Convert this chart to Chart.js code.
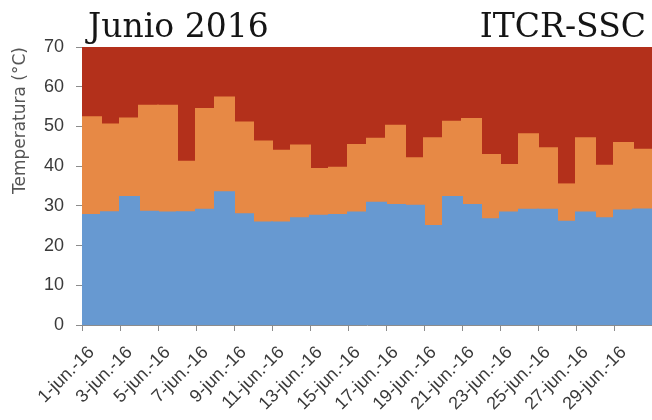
<!DOCTYPE html>
<html>
<head>
<meta charset="utf-8">
<script src="https://cdn.jsdelivr.net/npm/chart.js@4"></script>
<style>
  html, body { margin: 0; padding: 0; background: #ffffff; }
  #wrap { position: relative; width: 652px; height: 420px; }
</style>
</head>
<body>
<div id="wrap"><canvas id="c" width="652" height="420"></canvas></div>
<script>
// Daily temperatures, June 2016 (ITCR-SSC station)
const days = [
  '1-jun.-16','2-jun.-16','3-jun.-16','4-jun.-16','5-jun.-16','6-jun.-16',
  '7-jun.-16','8-jun.-16','9-jun.-16','10-jun.-16','11-jun.-16','12-jun.-16',
  '13-jun.-16','14-jun.-16','15-jun.-16','16-jun.-16','17-jun.-16','18-jun.-16',
  '19-jun.-16','20-jun.-16','21-jun.-16','22-jun.-16','23-jun.-16','24-jun.-16',
  '25-jun.-16','26-jun.-16','27-jun.-16','28-jun.-16','29-jun.-16','30-jun.-16'
];
const tMin = [27.7, 28.4, 32.2, 28.5, 28.3, 28.4, 29.0, 33.4, 27.9, 25.8,
              25.8, 26.9, 27.5, 27.7, 28.3, 30.8, 30.2, 30.0, 24.9, 32.2,
              30.2, 26.6, 28.3, 29.0, 29.0, 26.0, 28.3, 26.9, 28.8, 29.1];
const tMax = [52.3, 50.5, 52.0, 55.2, 55.2, 41.1, 54.4, 57.3, 51.0, 46.2,
              43.9, 45.2, 39.3, 39.6, 45.3, 46.9, 50.2, 42.0, 47.0, 51.2,
              51.9, 42.8, 40.3, 48.0, 44.5, 35.4, 47.0, 40.1, 45.8, 44.1];
const yTicks = [0, 10, 20, 30, 40, 50, 60, 70];
const yTop = 70;

const axisGray = '#8c8c8c';
const labelColor = '#3a3a3a';
const tickFont = { family: '"Liberation Sans", Arial, sans-serif', size: 18 };

// Heading texts drawn above the plot
const headings = {
  id: 'headings',
  afterDraw(chart) {
    const ctx = chart.ctx;
    ctx.save();
    ctx.fillStyle = '#151515';
    ctx.font = '33px "DejaVu Serif"';
    ctx.textBaseline = 'alphabetic';
    ctx.textAlign = 'left';
    ctx.fillText('Junio 2016', 88, 37);
    ctx.textAlign = 'right';
    ctx.fillText('ITCR-SSC', 646, 37);
    ctx.restore();
  }
};

new Chart(document.getElementById('c'), {
  type: 'bar',
  data: {
    labels: days,
    datasets: [
      { label: 'Mínima', data: tMin.map(v => [0, v]), backgroundColor: '#6799d1' },
      { label: 'Máxima', data: tMin.map((v, i) => [v, tMax[i]]), backgroundColor: '#e78945' },
      { label: 'Resto', data: tMax.map(v => [v, yTop]), backgroundColor: '#b3301b' }
    ]
  },
  options: {
    responsive: false,
    animation: false,
    layout: { padding: { top: 47, right: 0, left: 0, bottom: 0 } },
    datasets: {
      bar: { categoryPercentage: 1, barPercentage: 1, borderWidth: 0, inflateAmount: 1 }
    },
    plugins: { legend: { display: false }, tooltip: { enabled: false } },
    scales: {
      x: {
        stacked: true,
        offset: true,
        grid: {
          offset: true,
          drawOnChartArea: false,
          tickLength: 6,
          color: c => (c.index % 2 === 0 ? axisGray : 'rgba(0,0,0,0)')
        },
        border: { display: true, color: axisGray },
        ticks: {
          autoSkip: false,
          maxRotation: 45,
          minRotation: 45,
          padding: 11,
          color: labelColor,
          font: tickFont,
          callback: function (v, i) { return i % 2 === 0 ? this.getLabelForValue(v) : ''; }
        },
        afterFit: s => { s.height = 95; s.paddingRight = 0; s.paddingLeft = 0; }
      },
      y: {
        min: 0,
        max: yTop,
        afterBuildTicks: s => { s.ticks = yTicks.map(v => ({ value: v })); },
        grid: { drawOnChartArea: false, tickLength: 6, color: axisGray },
        border: { display: true, color: axisGray },
        ticks: {
          padding: 12,
          color: labelColor,
          font: tickFont
        },
        title: {
          display: true,
          text: 'Temperatura (°C)',
          align: 'end',
          color: '#555555',
          padding: { top: 10, bottom: 0 },
          font: { family: '"DejaVu Sans", sans-serif', size: 17 }
        },
        afterFit: s => { s.width = 82; }
      }
    }
  },
  plugins: [headings]
});
</script>
</body>
</html>
